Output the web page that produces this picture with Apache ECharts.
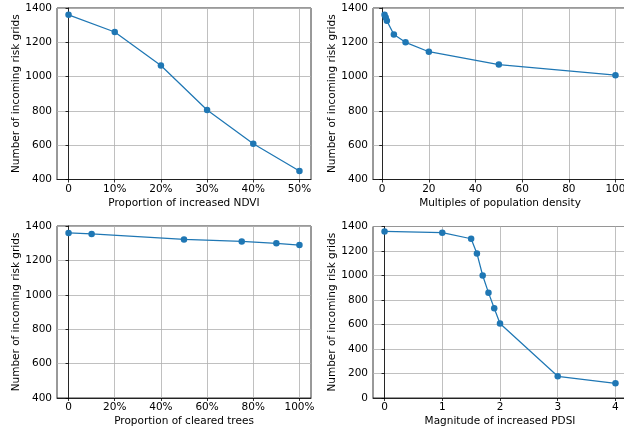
<!DOCTYPE html>
<html>
<head>
<meta charset="utf-8">
<script src="https://cdn.jsdelivr.net/npm/echarts@6/dist/echarts.min.js"></script>
<style>
  html, body { margin: 0; padding: 0; background: #fff; }
  #chart-container { width: 624px; height: 432px; }
</style>
</head>
<body>
<div id="chart-container"></div>
<script>
// data
const ndviX = [0, 0.1, 0.2, 0.3, 0.4, 0.5];
const ndviY = [1360, 1260, 1065, 805, 608, 450];

const popX = [1, 1.5, 2, 5, 10, 20, 50, 100];
const popY = [1360, 1345, 1325, 1245, 1200, 1145, 1070, 1008];

const treeX = [0, 0.1, 0.5, 0.75, 0.9, 1.0];
const treeY = [1360, 1354, 1322, 1310, 1299, 1289];

const pdsiX = [0, 1, 1.5, 1.6, 1.7, 1.8, 1.9, 2, 3, 4];
const pdsiY = [1360, 1350, 1300, 1180, 1000, 860, 732, 608, 177, 120];

const ndviTicks = [0, 0.1, 0.2, 0.3, 0.4, 0.5];
const popTicks = [0, 20, 40, 60, 80, 100];
const treeTicks = [0, 0.2, 0.4, 0.6, 0.8, 1.0];
const pdsiTicks = [0, 1, 2, 3, 4];

const yName = 'Number of incoming risk grids';
const font = 'DejaVu Sans';
const fs = 10.5;
const blue = '#1f77b4';

const pct = v => (Math.abs(v) < 1e-9 ? '0' : Math.round(v * 100) + '%');

// the right column runs a little past the page edge, as in the source figure
const grids = [
	{ left: 57, top: 8, width: 254, height: 171.5 },
	{ left: 373, top: 8, width: 254, height: 171.5 },
	{ left: 57, top: 226, width: 254, height: 172 },
	{ left: 373, top: 226.5, width: 254, height: 171.5 }
].map(g => Object.assign(g, {
	show: true, borderColor: '#000', borderWidth: 0.8, backgroundColor: 'transparent',
	outerBoundsMode: 'none', containLabel: false
}));

const xAxis = (idx, name, min, max, ticks, fmt) => ({
	type: 'value',
	gridIndex: idx,
	name: name,
	nameLocation: 'middle',
	nameGap: 18,
	nameTextStyle: { fontFamily: font, fontSize: fs, color: '#000' },
	min: min,
	max: max,
	axisLine: { show: true, onZero: false, lineStyle: { color: '#000', width: 0.8 } },
	axisTick: { show: true, length: 3, customValues: ticks, lineStyle: { color: '#000', width: 0.8 } },
	axisLabel: { customValues: ticks, margin: 4, fontFamily: font, fontSize: fs, color: '#000', formatter: fmt },
	splitLine: { show: true, lineStyle: { color: '#b0b0b0', width: 0.8 } }
});

const yAxis = (idx, min) => ({
	type: 'value',
	gridIndex: idx,
	name: yName,
	nameLocation: 'middle',
	nameGap: 35,
	nameTextStyle: { fontFamily: font, fontSize: fs, color: '#000' },
	min: min,
	max: 1400,
	interval: 200,
	axisLine: { show: true, lineStyle: { color: '#000', width: 0.8 } },
	axisTick: { show: true, length: 3, lineStyle: { color: '#000', width: 0.8 } },
	axisLabel: { margin: 5, fontFamily: font, fontSize: fs, color: '#000', formatter: v => String(v) },
	splitLine: { show: true, lineStyle: { color: '#b0b0b0', width: 0.8 } }
});

const line = (idx, xs, ys) => ({
	type: 'line',
	xAxisIndex: idx,
	yAxisIndex: idx,
	data: xs.map((x, i) => [x, ys[i]]),
	symbol: 'circle',
	symbolSize: 6.5,
	showSymbol: true,
	lineStyle: { color: blue, width: 1.25 },
	itemStyle: { color: blue },
	animation: false
});

const myChart = echarts.init(document.getElementById('chart-container'), null, { renderer: 'canvas' });
const option = {
	backgroundColor: '#fff',
	animation: false,
	grid: grids,
	xAxis: [
		xAxis(0, 'Proportion of increased NDVI', -0.025, 0.525, ndviTicks, pct),
		xAxis(1, 'Multiples of population density', -3.95, 104.95, popTicks, v => String(v)),
		xAxis(2, 'Proportion of cleared trees', -0.05, 1.05, treeTicks, pct),
		xAxis(3, 'Magnitude of increased PDSI', -0.2, 4.2, pdsiTicks, v => String(v))
	],
	yAxis: [yAxis(0, 400), yAxis(1, 400), yAxis(2, 400), yAxis(3, 0)],
	series: [
		line(0, ndviX, ndviY),
		line(1, popX, popY),
		line(2, treeX, treeY),
		line(3, pdsiX, pdsiY)
	]
};
myChart.setOption(option);
</script>
</body>
</html>
